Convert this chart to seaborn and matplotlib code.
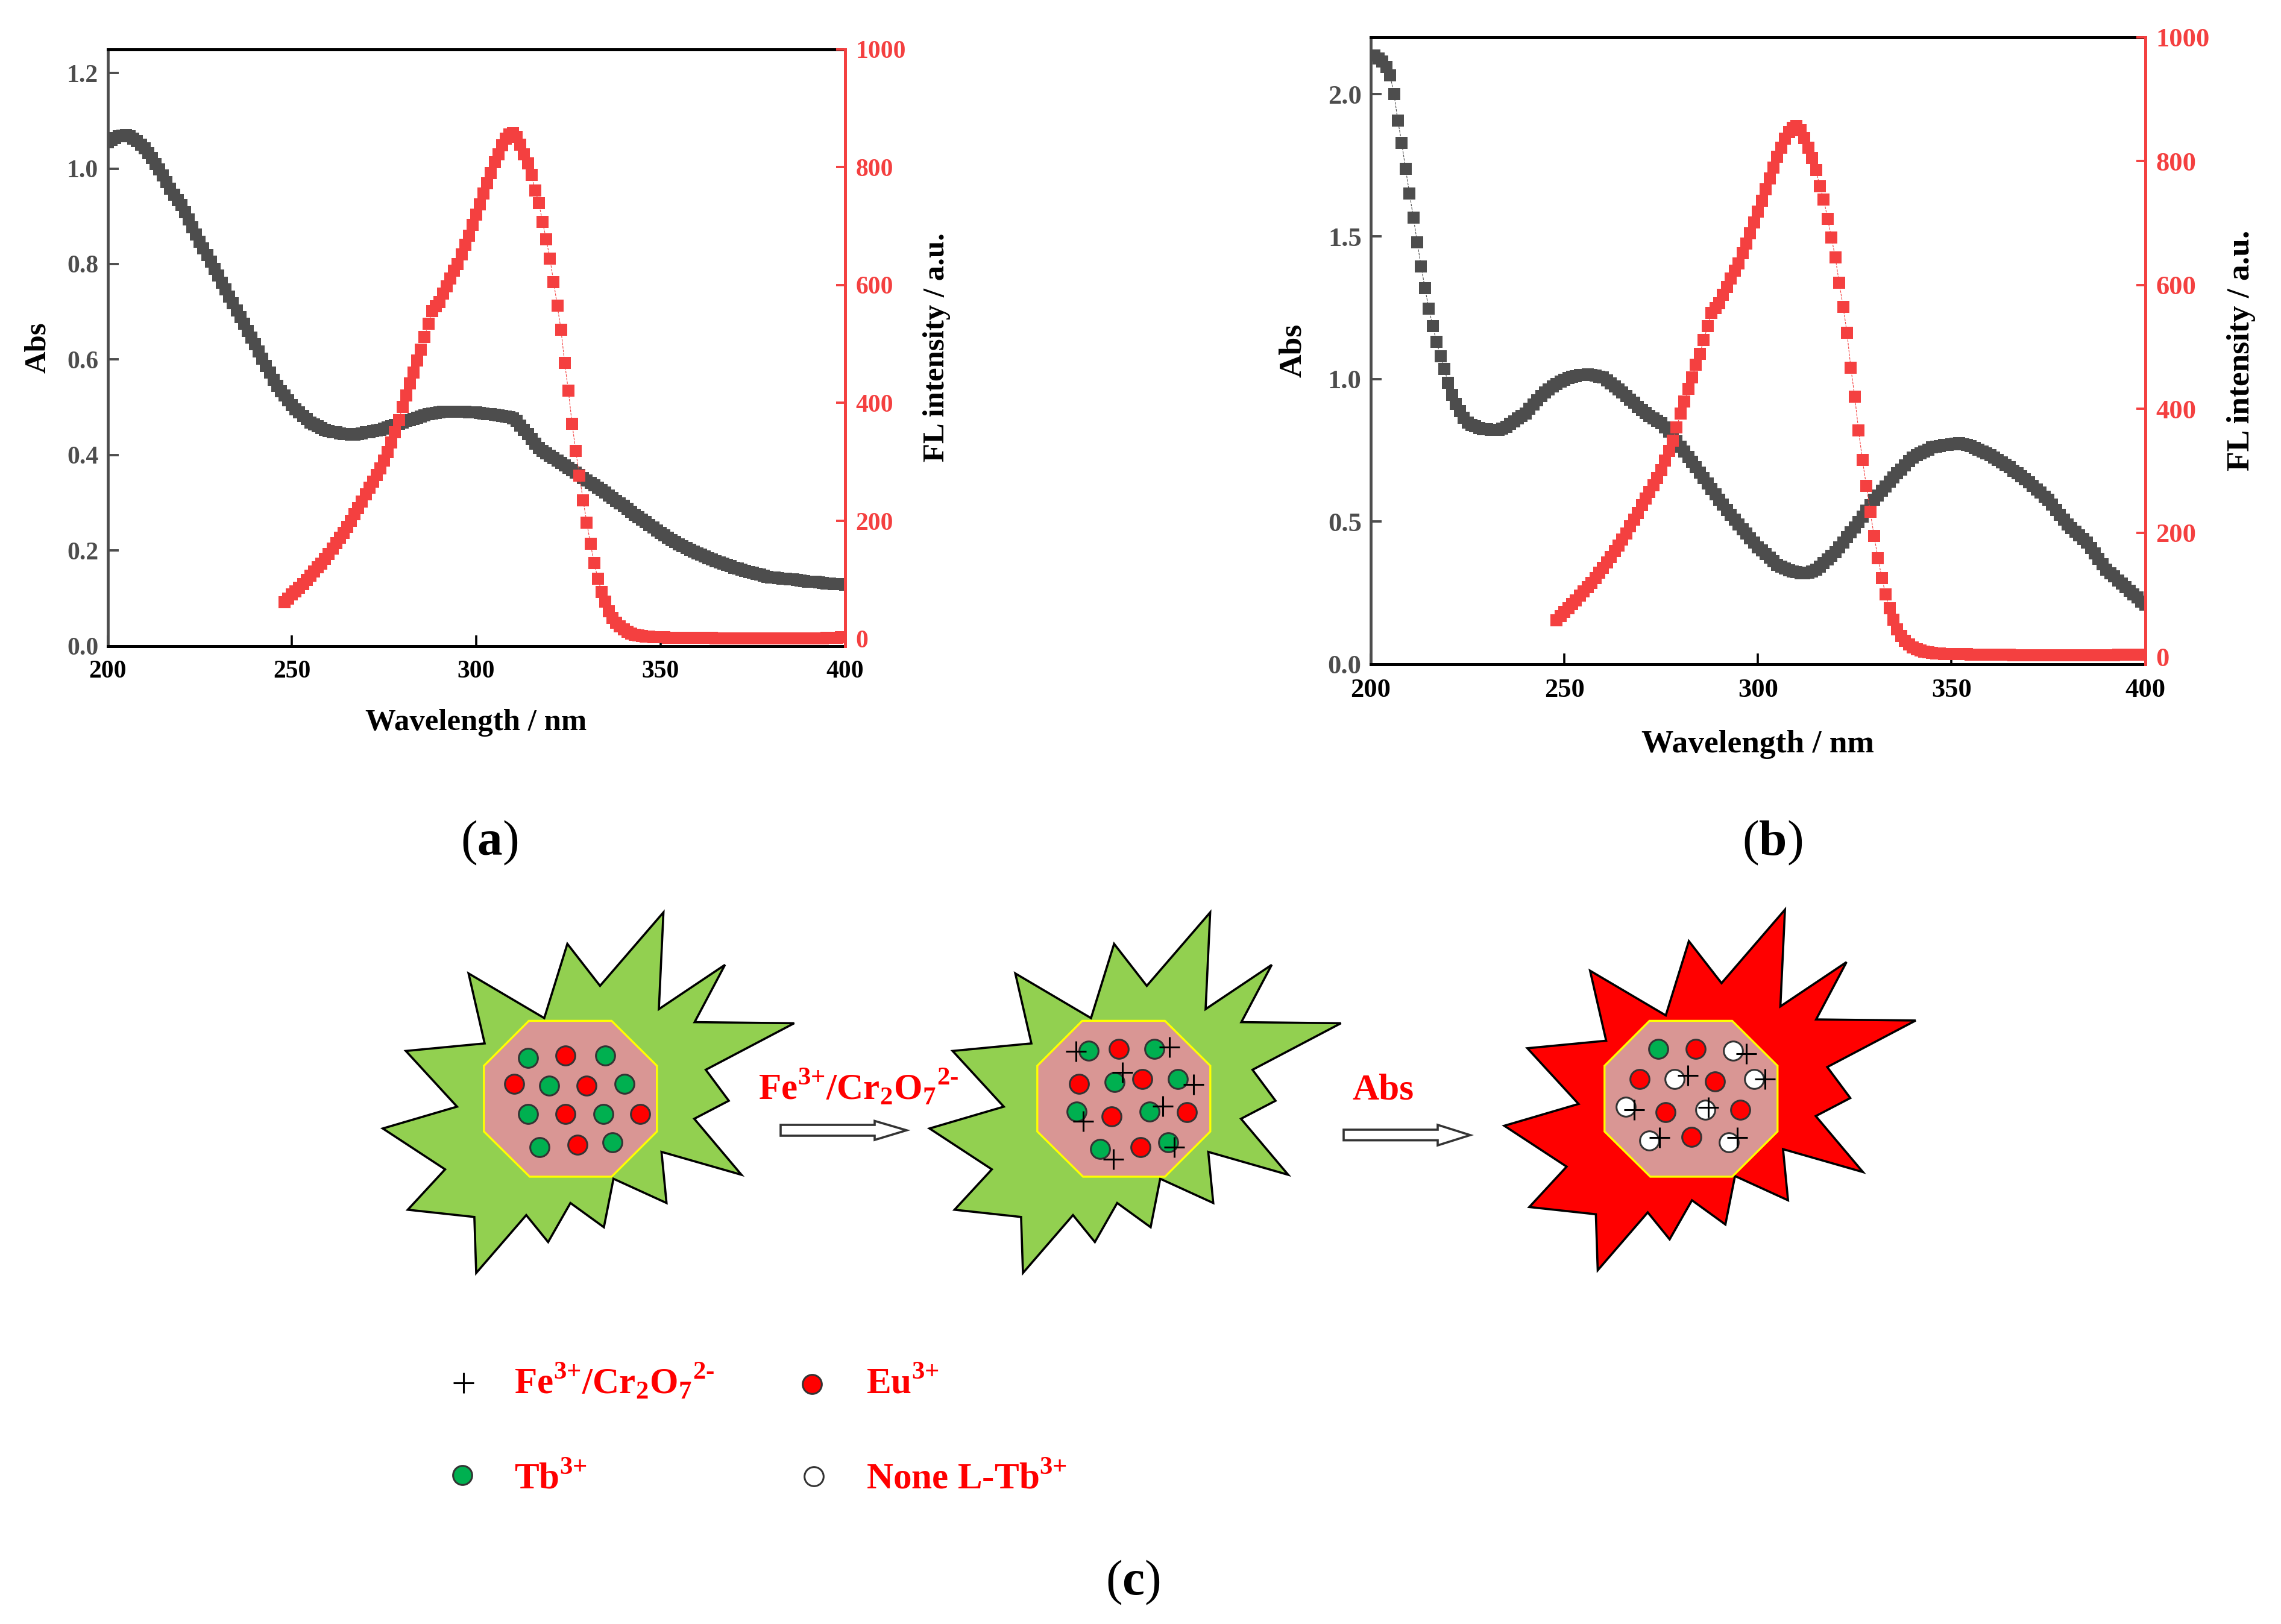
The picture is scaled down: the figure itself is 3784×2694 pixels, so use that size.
import numpy as np
import matplotlib
matplotlib.use("Agg")
import matplotlib.pyplot as plt
import seaborn as sns

# ---- panel (a) and (b) spectra, 1 nm steps ----
wl_abs = list(range(200, 401))
wl_fl = list(range(248, 401))

abs_a = [1.055,1.060,1.064,1.067,1.069,1.070,1.068,1.063,1.057,1.050,1.042,1.032,1.022,1.010,.998,.985,.972,.958,.945,.934,
         .923,.908,.893,.877,.862,.847,.833,.819,.805,.790,.776,.761,.747,.732,.718,.703,.689,.675,.660,.646,
         .632,.617,.602,.587,.572,.557,.545,.534,.524,.514,.504,.496,.489,.482,.475,.468,.464,.460,.456,.453,
         .450,.448,.447,.445,.444,.444,.443,.443,.444,.445,.447,.448,.450,.452,.453,.455,.458,.460,.463,.465,
         .468,.471,.473,.476,.478,.481,.483,.485,.487,.488,.489,.490,.490,.490,.490,.490,.490,.490,.489,.489,
         .489,.488,.487,.486,.485,.484,.483,.482,.481,.479,.477,.471,.462,.453,.444,.434,.424,.415,.409,.403,
         .398,.393,.388,.383,.378,.373,.368,.363,.358,.352,.347,.342,.337,.332,.326,.321,.315,.310,.304,.299,
         .293,.287,.281,.275,.270,.264,.259,.253,.248,.242,.237,.232,.227,.222,.218,.213,.209,.205,.201,.197,
         .194,.191,.187,.184,.181,.178,.175,.172,.170,.167,.164,.162,.160,.157,.155,.153,.151,.149,.147,.145,
         .143,.143,.142,.141,.141,.140,.139,.138,.137,.136,.135,.134,.134,.133,.132,.131,.131,.130,.129,.129,.128]

abs_b = [2.135,2.135,2.125,2.115,2.095,2.065,2.000,1.907,1.828,1.737,1.651,1.567,1.480,1.396,1.319,1.247,1.186,1.131,1.080,1.035,
         .987,.944,.912,.888,.865,.848,.839,.834,.828,.825,.823,.821,.821,.822,.826,.833,.842,.852,.862,.870,
         .880,.895,.911,.926,.940,.953,.964,.974,.983,.991,.998,1.003,1.007,1.011,1.014,1.015,1.016,1.015,1.012,1.009,
         1.005,.995,.984,.974,.963,.953,.941,.928,.916,.903,.891,.881,.871,.861,.853,.845,.830,.815,.800,.782,
         .762,.745,.727,.709,.691,.672,.653,.634,.614,.595,.576,.559,.541,.524,.506,.489,.473,.457,.442,.426,
         .410,.398,.386,.373,.361,.349,.342,.336,.330,.325,.322,.319,.318,.320,.325,.331,.342,.355,.368,.380,
         .392,.410,.427,.445,.462,.480,.499,.518,.538,.557,.576,.592,.608,.624,.639,.655,.669,.683,.697,.711,
         .725,.732,.739,.746,.753,.760,.763,.765,.768,.770,.772,.774,.775,.772,.768,.764,.758,.752,.746,.740,
         .734,.725,.716,.708,.699,.690,.679,.669,.658,.648,.637,.625,.613,.601,.588,.576,.559,.541,.524,.506,
         .489,.477,.464,.452,.439,.427,.408,.388,.369,.350,.331,.319,.307,.294,.282,.270,.258,.245,.233,.220,.208]

fl_a = [62,68,75,81,87,93,100,107,114,121,128,136,144,153,162,171,180,190,200,211,
        222,233,245,256,267,278,289,302,317,333,350,371,393,413,433,452,472,490,512,534,
        556,564,571,585,598,611,624,636,652,668,684,702,719,737,755,773,790,808,822,837,
        848,855,857,851,838,822,806,787,760,739,707,677,645,605,565,524,468,421,365,319,
        277,235,197,161,129,102,80,63,47,36,27,21,16,12,9,7,6,5,4,4,
        3,3,3,3,2,2,2,2,2,2,2,2,2,2,2,2,2,1,1,1,
        1,1,1,1,1,1,1,1,1,1,1,1,1,1,1,1,1,1,1,1,
        1,1,1,1,1,1,1,2,2,2,2,3,3]

fl_b = [59,65,72,78,85,91,98,105,112,119,127,135,143,152,161,170,179,189,199,210,
        221,232,244,255,266,277,288,301,316,332,349,370,392,412,432,451,471,489,511,533,
        555,563,570,584,597,610,623,635,651,667,683,701,718,736,754,772,789,807,821,836,
        847,854,856,850,837,821,805,785,759,738,707,676,644,603,565,523,466,420,365,317,
        276,234,195,159,127,100,78,60,44,33,25,20,15,12,10,8,7,6,5,5,
        4,4,4,4,4,4,4,3,3,3,3,3,3,3,3,3,3,3,2,2,
        2,2,2,2,2,2,2,2,2,2,2,2,2,2,2,2,2,2,2,2,
        2,2,2,2,2,3,3,3,3,3,3,3,3]

# ---- panel (c) shapes, figure pixel coordinates ----
star_pts = [(1100.6,1513.5),(1093,1674),(1202.7,1600.5),(1152.3,1695.6),(1317.5,1697.4),(1170.8,1774.6),(1209,1826),
            (1151.7,1855.9),(1230,1948.8),(1097.4,1910.8),(1105.7,1995.6),(1017.7,1955.4),(1001.8,2035.8),(946.3,1995.6),
            (909.3,2060.4),(873,2015.7),(790,2111.7),(786.9,2018.8),(676.5,2006.8),(738.4,1939.8),(635,1872),
            (758.2,1835.8),(673.3,1743.4),(804,1730.9),(777.3,1614.8),(902.9,1688.9),(941.2,1565.7),(995.4,1635.4)]
octagon_pts = [(877.4,1693.4),(1014.5,1693.4),(1089.8,1768),(1089.8,1877),(1014.5,1952),(878.7,1952),(802.8,1877),(802.8,1768)]
star_shift = [(0, 0), (907, 0), (1860.5, -4.5)]
octagon_shift = [0, 918, 1859]
star_colors = ["#92d050", "#92d050", "#ff0000"]

green_dots = [(875.5,1754.6),(1003.7,1751),(911.2,1801.4),(1035.6,1797.9),(875.5,1848.3),(1000.5,1848.3),(895.3,1902.8),(1015.8,1895.2),
              (1806.1,1743.4),(1914.5,1739.8),(1848.9,1794.7),(1954.1,1790.3),(1786.4,1843.8),(1906.9,1843.8),(1825.3,1906.3),(1938.1,1895.2),
              (2750.8,1739.8)]
red_dots = [(938,1751),(852.6,1797.9),(973.1,1801.4),(938,1848.3),(1062.4,1848.3),(957.8,1898.8),
            (1855.9,1739.8),(1790.2,1797.9),(1895.4,1790.3),(1844.4,1851.9),(1969.4,1844.7),(1891.6,1902.8),
            (2813.3,1739.8),(2720.2,1790.3),(2844.5,1793.8),(2762.9,1844.7),(2887.2,1840.7),(2805.6,1886.3)]
white_dots = [(2875.1,1743.4),(2778.2,1790.3),(2910.2,1790.3),(2696.6,1836.3),(2828.6,1840.7),(2736.1,1891.6),(2867.5,1895.2)]
plus_marks = [(1785.1,1744.3),(1940,1736.7),(1862.2,1779.1),(1979.6,1799.2),(1796.6,1860.4),(1928.6,1834.9),(1846.9,1922.9),(1948.3,1902.8),
              (2897.4,1747.9),(2799.9,1783.6),(2928,1790.3),(2710.6,1840.7),(2833.7,1837.1),(2752.7,1887.1),(2881.5,1887.1)]

arrow_1 = [(1295,1866),(1451,1866),(1451,1859.5),(1504,1875),(1451,1891),(1451,1884),(1295,1884)]
arrow_2 = [(2229,1874),(2385,1874),(2385,1866),(2439,1883),(2385,1900),(2385,1891.6),(2229,1891.6)]

ion_label = "Fe$^{\\mathbf{3{+}}}$/Cr$_{\\mathbf{2}}$O$_{\\mathbf{7}}{}^{\\mathbf{2}\\text{-}}$"
plus_label = "$^{\\mathbf{3{+}}}$"

GREY = "#4d4d4d"
RED = "#f44040"
W, H = 3784, 2694

sns.set_theme(style="white")
plt.rcParams["font.family"] = ["Liberation Serif", "DejaVu Serif"]
plt.rcParams["font.weight"] = "bold"
plt.rcParams["mathtext.fontset"] = "custom"
plt.rcParams["mathtext.bf"] = "Liberation Serif:bold"
plt.rcParams["mathtext.rm"] = "Liberation Serif:bold"

fig = plt.figure(figsize=(W / 100, H / 100), dpi=100, facecolor="white")


def spectrum_panel(box, abs_vals, fl_vals, abs_top, abs_ticks, fl_bottom, xpad, ypad, tick_fs, label_fs):
    x0, y0, x1, y1 = box
    ax = fig.add_axes([x0 / W, 1 - y1 / H, (x1 - x0) / W, (y1 - y0) / H])
    sns.lineplot(x=wl_abs, y=abs_vals, ax=ax, color=GREY, marker="s", markersize=14.4,
                 markeredgewidth=0, linewidth=0.8, linestyle="--")
    ax.set_xlim(200, 400)
    ax.set_ylim(0, abs_top)
    ax.set_xticks([200, 250, 300, 350, 400])
    ax.set_yticks(abs_ticks)
    ax.set_yticklabels([f"{t:.1f}" for t in abs_ticks])
    ax.tick_params(axis="x", direction="in", length=13, width=2.6, colors="black", labelsize=tick_fs, pad=17, bottom=True)
    ax.tick_params(axis="y", direction="in", length=13, width=2.8, colors=GREY, labelsize=tick_fs, pad=11, left=True)
    ax.set_xlabel("Wavelength / nm", fontsize=label_fs, fontweight="bold", color="black", labelpad=xpad)
    ax.set_ylabel("Abs", fontsize=label_fs, fontweight="bold", color="black", labelpad=ypad)
    for side in ("top", "bottom"):
        ax.spines[side].set_color("black")
        ax.spines[side].set_linewidth(3.6)
    ax.spines["left"].set_color(GREY)
    ax.spines["left"].set_linewidth(3.4)
    ax.spines["right"].set_visible(False)

    tw = ax.twinx()
    sns.lineplot(x=wl_fl, y=fl_vals, ax=tw, color=RED, marker="s", markersize=14.4,
                 markeredgewidth=0, linewidth=0.8, linestyle="--")
    tw.set_ylim(fl_bottom, 1000)
    tw.set_yticks([0, 200, 400, 600, 800, 1000])
    tw.tick_params(axis="y", direction="in", length=11, width=2.8, colors=RED, labelsize=tick_fs, pad=13, right=True)
    tw.set_ylabel("FL intensity / a.u.", fontsize=label_fs, fontweight="bold", color="black", labelpad=20)
    for side in ("top", "bottom", "left"):
        tw.spines[side].set_visible(False)
    tw.spines["right"].set_color(RED)
    tw.spines["right"].set_linewidth(3.6)
    return ax, tw


spectrum_panel((178.5, 81.5, 1401.5, 1071.5), abs_a, fl_a, 1.25, [0, 0.2, 0.4, 0.6, 0.8, 1.0, 1.2], -12, 31, 18, 30, 36.5)
spectrum_panel((2274, 61.5, 3558.5, 1101.5), abs_b, fl_b, 2.2, [0, 0.5, 1.0, 1.5, 2.0], -12, 33, 24, 32, 38.5)

# overlay in pixel coordinates for the schematic
ov = fig.add_axes([0, 0, 1, 1], facecolor="none")
ov.set_xlim(0, W)
ov.set_ylim(H, 0)
ov.set_autoscale_on(False)
ov.axis("off")

star_xy = np.array(star_pts)
oct_xy = np.array(octagon_pts)
for (dx, dy), oct_dx, col in zip(star_shift, octagon_shift, star_colors):
    ov.fill(star_xy[:, 0] + dx, star_xy[:, 1] + dy, facecolor=col, edgecolor="black", linewidth=2.6, joinstyle="miter")
    ov.fill(oct_xy[:, 0] + oct_dx, oct_xy[:, 1], facecolor="#d99694", edgecolor="#ffff00", linewidth=2.4, joinstyle="miter")


def dots(points, color):
    xy = np.array(points)
    sns.scatterplot(x=xy[:, 0], y=xy[:, 1], ax=ov, color=color, s=520, edgecolor="#333333",
                    linewidth=2.2, legend=False, zorder=4)


dots(green_dots + [(767, 2447)], "#00b050")
dots(red_dots + [(1347, 2296)], "#ff0000")
dots(white_dots + [(1350, 2449)], "white")

plus_xy = np.array(plus_marks)
ov.plot(plus_xy[:, 0], plus_xy[:, 1], "+", color="black", markersize=25, markeredgewidth=2.2, zorder=5)
ov.plot([769], [2294], "+", color="black", markersize=25, markeredgewidth=2.2, zorder=5)

for arrow in (arrow_1, arrow_2):
    a = np.array(arrow)
    ov.fill(a[:, 0], a[:, 1], facecolor="white", edgecolor="#333333", linewidth=2.6)

text_kw = dict(color="#ff0000", fontsize=44, fontweight="bold", va="baseline", ha="left")
ov.text(1258, 1823, ion_label, **text_kw)
ov.text(2243, 1823, "Abs", **text_kw)
ov.text(853, 2311, ion_label, **text_kw)
ov.text(1437, 2311, "Eu" + plus_label, **text_kw)
ov.text(853, 2470, "Tb" + plus_label, **text_kw)
ov.text(1437, 2470, "None L-Tb" + plus_label, **text_kw)

cap_kw = dict(color="black", fontsize=60, fontweight="normal", ha="center", va="center")
ov.text(812, 1398, "($\\mathbf{a}$)", **cap_kw)
ov.text(2940, 1398, "($\\mathbf{b}$)", **cap_kw)
ov.text(1879, 2625, "($\\mathbf{c}$)", **cap_kw)

fig.savefig("out.png", dpi=100)
